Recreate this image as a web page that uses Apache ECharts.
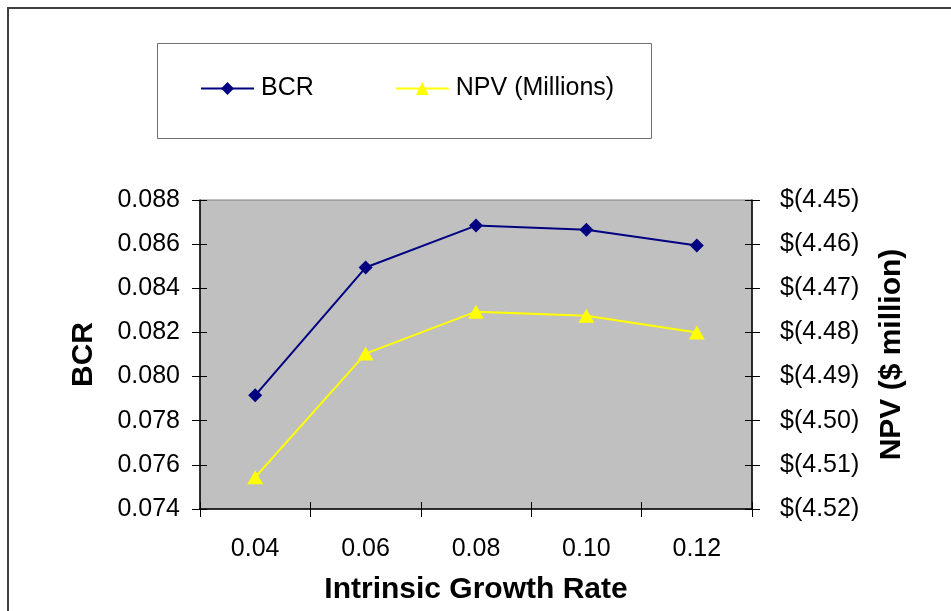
<!DOCTYPE html>
<html>
<head>
<meta charset="utf-8">
<script src="https://cdn.jsdelivr.net/npm/echarts@6/dist/echarts.min.js"></script>
<style>html,body{margin:0;padding:0;background:#fff;}#c{width:951px;height:611px;}</style>
</head>
<body>
<div id="c"></div>
<script>
const categories = ['0.04', '0.06', '0.08', '0.10', '0.12'];
const bcr = [0.07915, 0.08494, 0.08684, 0.08665, 0.08594];
const npv = [-4.5128, -4.4848, -4.4753, -4.4762, -4.4800];
const seriesNames = ['BCR', 'NPV (Millions)'];
const xTitle = 'Intrinsic Growth Rate';
const yLeftTitle = 'BCR';
const yRightTitle = 'NPV ($ million)';

const FONT = '"Liberation Sans", Arial, sans-serif';
const chart = echarts.init(document.getElementById('c'), null, {renderer: 'canvas'});

const tickStyle = {color: '#000', width: 1};
const leftFmt = v => v.toFixed(3);
const rightFmt = v => '$(' + Math.abs(v).toFixed(2) + ')';

chart.setOption({
  animation: false,
  backgroundColor: '#fff',
  textStyle: {fontFamily: FONT},
  graphic: [
    {type: 'rect', shape: {x: 8, y: 8, width: 980, height: 640}, style: {fill: 'none', stroke: '#404040', lineWidth: 2}, z: 0},
    {type: 'rect', shape: {x: 157.5, y: 43.5, width: 494, height: 95}, style: {fill: '#fff', stroke: '#707070', lineWidth: 1}, z: 0}
  ],
  legend: {
    left: 200, top: 76, padding: 0,
    itemWidth: 53, itemHeight: 16, itemGap: 81,
    textStyle: {fontFamily: FONT, fontSize: 25, color: '#000', padding: [0, 0, 0, 2]},
    data: seriesNames
  },
  grid: {
    left: 200, right: 199, top: 200, bottom: 102,
    show: true, backgroundColor: '#c0c0c0', borderColor: '#808080', borderWidth: 1
  },
  xAxis: [
    {
      type: 'category', data: categories, position: 'bottom',
      axisLine: {lineStyle: {color: '#000', width: 1.5}},
      axisTick: {show: true, length: 8, lineStyle: tickStyle},
      axisLabel: {fontFamily: FONT, fontSize: 25, color: '#000', margin: 28},
      name: xTitle, nameLocation: 'middle', nameGap: 66,
      nameTextStyle: {fontFamily: FONT, fontSize: 30, fontWeight: 'bold', color: '#000'}
    },
    {
      type: 'category', data: categories, position: 'bottom',
      axisLine: {show: false},
      axisTick: {show: true, inside: true, length: 7, lineStyle: tickStyle},
      axisLabel: {show: false}
    }
  ],
  yAxis: [
    {
      type: 'value', min: 0.074, max: 0.088, interval: 0.002, position: 'left',
      axisLine: {show: true, lineStyle: {color: '#000', width: 1.5}},
      axisTick: {show: true, length: 8, lineStyle: tickStyle},
      splitLine: {show: false},
      axisLabel: {fontFamily: FONT, fontSize: 25, color: '#000', margin: 20, formatter: leftFmt},
      name: yLeftTitle, nameLocation: 'middle', nameGap: 101, nameRotate: 90,
      nameTextStyle: {fontFamily: FONT, fontSize: 30, fontWeight: 'bold', color: '#000'}
    },
    {
      type: 'value', min: -4.52, max: -4.45, interval: 0.01, position: 'right',
      axisLine: {show: true, lineStyle: {color: '#000', width: 1.5}},
      axisTick: {show: true, length: 8, lineStyle: tickStyle},
      splitLine: {show: false},
      axisLabel: {fontFamily: FONT, fontSize: 25, color: '#000', margin: 28, formatter: rightFmt},
      name: yRightTitle, nameLocation: 'middle', nameGap: 125, nameRotate: 90,
      nameTextStyle: {fontFamily: FONT, fontSize: 30, fontWeight: 'bold', color: '#000'}
    },
    {
      type: 'value', min: 0.074, max: 0.088, interval: 0.002, position: 'left',
      axisLine: {show: false}, splitLine: {show: false},
      axisTick: {show: true, inside: true, length: 7, lineStyle: tickStyle},
      axisLabel: {show: false}
    },
    {
      type: 'value', min: -4.52, max: -4.45, interval: 0.01, position: 'right',
      axisLine: {show: false}, splitLine: {show: false},
      axisTick: {show: true, inside: true, length: 7, lineStyle: tickStyle},
      axisLabel: {show: false}
    }
  ],
  series: [
    {
      name: seriesNames[0], type: 'line', data: bcr, xAxisIndex: 0, yAxisIndex: 0,
      symbol: 'diamond', symbolSize: 14,
      lineStyle: {color: '#000080', width: 2},
      itemStyle: {color: '#000080', borderWidth: 0},
      z: 3
    },
    {
      name: seriesNames[1], type: 'line', data: npv, xAxisIndex: 0, yAxisIndex: 1,
      symbol: 'triangle', symbolSize: [16, 14],
      lineStyle: {color: '#ffff00', width: 2},
      itemStyle: {color: '#ffff00', borderWidth: 0},
      z: 2
    }
  ]
});
</script>
</body>
</html>
